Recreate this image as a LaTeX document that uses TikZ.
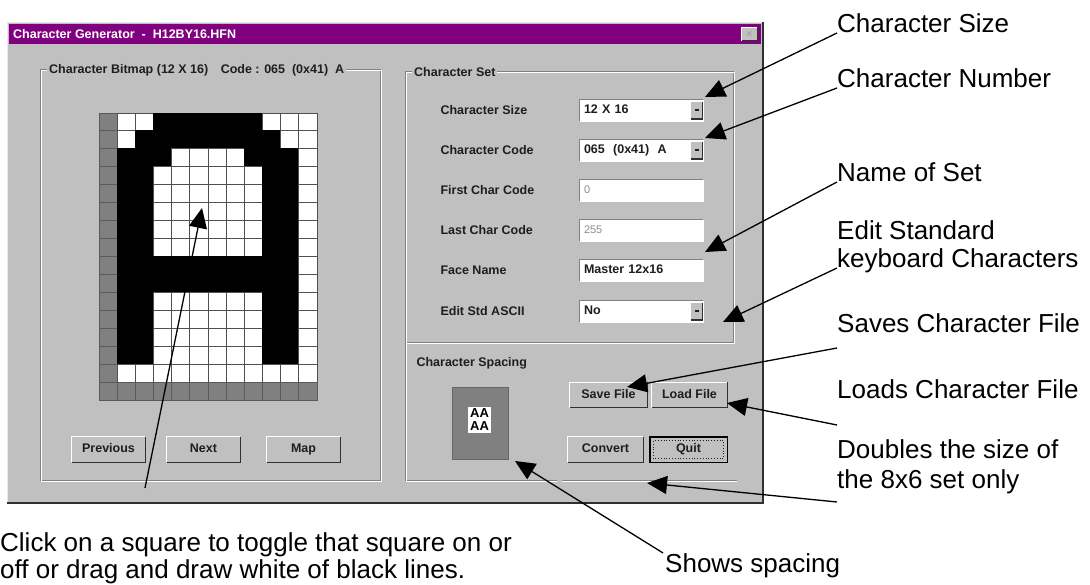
\documentclass[tikz,border=0pt]{standalone}
\usepackage{fontspec}
\setmainfont{Liberation Sans}
\usetikzlibrary{arrows.meta}
\definecolor{wingray}{HTML}{C0C0C0}
\definecolor{winlight}{HTML}{E8E8E8}
\definecolor{winshadow}{HTML}{808080}
\definecolor{windark}{HTML}{303030}
\definecolor{titlepurple}{HTML}{800080}
\definecolor{uitext}{HTML}{1E1E1E}
\definecolor{disabledtext}{HTML}{8C8C8C}
\definecolor{cellG}{HTML}{808080}
\definecolor{cellW}{HTML}{FFFFFF}
\definecolor{cellB}{HTML}{000000}
\definecolor{edgeG}{HTML}{5A5A5A}
\definecolor{edgeW}{HTML}{505050}
\definecolor{edgeB}{HTML}{000000}
\newcommand\raisedEdge[1]{%
  \draw[white, line width=1.2pt] (#1.south west) -- (#1.north west) -- (#1.north east);
  \draw[windark, line width=1.4pt] (#1.north east) -- (#1.south east) -- (#1.south west);}
\newcommand\sunkenEdge[1]{%
  \draw[winshadow, line width=1.2pt] (#1.south west) -- (#1.north west) -- (#1.north east);
  \draw[white, line width=1.2pt] (#1.north east) -- (#1.south east) -- (#1.south west);}
\begin{document}
\begin{tikzpicture}[x=1pt,y=-1pt,
  ui/.style={font=\fontsize{12.5}{14}\selectfont\bfseries, text=uitext},
  annot/.style={font=\fontsize{26}{30}\selectfont, inner sep=0pt, anchor=base west},
  lead/.style={line width=1.3pt, -{Triangle[length=20pt,width=18pt]}},
  btn/.style={ui, fill=wingray, inner sep=0pt, minimum width=#1, minimum height=25pt, text height=9pt, text depth=2.5pt},
  field/.style={ui, fill=white, inner xsep=4pt, inner ysep=0pt, text width=115pt, align=left, minimum height=21pt, text height=9pt, text depth=2.5pt},
  ddbtn/.style={fill=wingray, inner sep=0pt, minimum width=11pt, minimum height=17pt},
  frametitle/.style={ui, fill=wingray, inner xsep=2pt, inner ysep=1pt, anchor=west},
  etchdark/.style={draw=winshadow, line width=1pt},
  etchlight/.style={draw=white, line width=1pt},
]
\useasboundingbox (0,0) rectangle (1090,585);
\fill[white] (0,0) rectangle (1090,585);

% ---------- window ----------
\fill[wingray] (7,22) rectangle (764,503);
\draw[winlight, line width=1.5pt] (7.5,503) -- (7.5,22.5) -- (764,22.5);
\draw[windark, line width=2pt] (763,22) -- (763,502.5) -- (7,502.5);
\fill[titlepurple] (9,24) rectangle (761,44);
\node[font=\fontsize{12.5}{13}\selectfont\bfseries, text=white, anchor=west, inner sep=0pt] (title) at (13,34) {Character Generator \ - \ H12BY16.HFN};
\node[fill=wingray, minimum width=15pt, minimum height=13pt, inner sep=0pt, font=\fontsize{10}{10}\selectfont, text=winshadow] (close) at (749.5,34) {$\times$};
\raisedEdge{close}

% ---------- left group ----------
\draw[etchdark] (40,70) rectangle (380,480);
\draw[etchlight] (41,71) rectangle (381,481);
\node[frametitle] (bmtitle) at (47,70) {Character Bitmap (12 X 16)\quad Code : 065 \ (0x41) \ A};

% bitmap grid
\def\cw{18.17}\def\ch{17.94}
\foreach \r/\row in {
  0/{G,W,W,B,B,B,B,B,B,W,W,W},
  1/{G,W,B,B,B,B,B,B,B,B,W,W},
  2/{G,B,B,B,W,W,W,W,B,B,B,W},
  3/{G,B,B,W,W,W,W,W,W,B,B,W},
  4/{G,B,B,W,W,W,W,W,W,B,B,W},
  5/{G,B,B,W,W,W,W,W,W,B,B,W},
  6/{G,B,B,W,W,W,W,W,W,B,B,W},
  7/{G,B,B,W,W,W,W,W,W,B,B,W},
  8/{G,B,B,B,B,B,B,B,B,B,B,W},
  9/{G,B,B,B,B,B,B,B,B,B,B,W},
  10/{G,B,B,W,W,W,W,W,W,B,B,W},
  11/{G,B,B,W,W,W,W,W,W,B,B,W},
  12/{G,B,B,W,W,W,W,W,W,B,B,W},
  13/{G,B,B,W,W,W,W,W,W,B,B,W},
  14/{G,W,W,W,W,W,W,W,W,W,W,W},
  15/{G,G,G,G,G,G,G,G,G,G,G,G}} {
  \foreach \c [count=\ci from 0] in \row {
    \filldraw[fill=cell\c, draw=edge\c, line width=0.9pt]
      ({99+\ci*\cw},{113+\r*\ch}) rectangle ++(\cw,\ch);
  }
}

% left buttons
\node[btn=73pt] (prev) at (108.5,449.5) {Previous};
\node[btn=73pt] (next) at (203.5,449.5) {Next};
\node[btn=73pt] (map)  at (303.5,449.5) {Map};
\raisedEdge{prev}\raisedEdge{next}\raisedEdge{map}

% ---------- right group: Character Set ----------
\draw[etchdark] (405,72) rectangle (733,343);
\draw[etchlight] (406,73) rectangle (734,344);
\node[frametitle] (settitle) at (412,72) {Character Set};

\node[ui, anchor=west] (lSize)  at (437,110.5) {Character Size};
\node[ui, anchor=west] (lCode)  at (437,150.5) {Character Code};
\node[ui, anchor=west] (lFirst) at (437,190.5) {First Char Code};
\node[ui, anchor=west] (lLast)  at (437,230.5) {Last Char Code};
\node[ui, anchor=west] (lFace)  at (437,270.5) {Face Name};
\node[ui, anchor=west] (lAscii) at (437,311.5) {Edit Std ASCII};

\node[field] (cbSize)  at (641.5,110.5) {12 X 16};
\node[field] (cbCode)  at (641.5,150.5) {065 \ (0x41) \ A};
\node[field, text=disabledtext, font=\fontsize{11}{13}\selectfont] (tbFirst) at (641.5,190.5) {0};
\node[field, text=disabledtext, font=\fontsize{11}{13}\selectfont] (tbLast)  at (641.5,230.5) {255};
\node[field] (tbFace)  at (641.5,270.5) {Master 12x16};
\node[field] (cbAscii) at (641.5,311.5) {No};
\foreach \b in {cbSize,cbCode,tbFirst,tbLast,tbFace,cbAscii} {\sunkenEdge{\b}}
\foreach \b/\y in {cbSizeBtn/110.5,cbCodeBtn/150.5,cbAsciiBtn/311.5} {
  \node[ddbtn] (\b) at (696.5,\y) {};
  \raisedEdge{\b}
  \fill[uitext] ([xshift=-2pt,yshift=-1pt]\b.center) rectangle ([xshift=2pt,yshift=1pt]\b.center);
}

% ---------- lower right area ----------
\draw[etchdark] (405,343) -- (405,480) -- (557,480);
\draw[etchlight] (406,343) -- (406,481) -- (557,481);
\draw[etchdark] (562,480) -- (737,480);
\draw[etchlight] (562,481) -- (737,481);
\node[ui, anchor=west] (spTitle) at (413,363) {Character Spacing};

\node[fill=cellG, draw=winshadow!80!black, minimum width=56pt, minimum height=72pt, inner sep=0pt] (spbox) at (480,423) {};
\node[fill=white, inner xsep=2pt, inner ysep=2pt, align=center, font=\fontsize{13}{13}\selectfont\bfseries] (spglyph) at (479.5,420) {AA\\AA};

\node[btn=77pt] (save) at (608.5,395) {Save File};
\node[btn=75pt] (load) at (689.5,395) {Load File};
\node[btn=75pt] (convert) at (605.5,449.5) {Convert};
\node[btn=77pt, draw=black, line width=1pt] (quit) at (688.5,449.5) {Quit};
\raisedEdge{save}\raisedEdge{load}\raisedEdge{convert}
\draw[black, line width=1.2pt] (quit.north west) rectangle (quit.south east);
\draw[uitext, dotted, line width=0.8pt] ([shift={(4pt,4pt)}]quit.south west) rectangle ([shift={(-4pt,-4pt)}]quit.north east);

% ---------- annotations ----------
\node[annot] (aSize)  at (837,33)  {Character Size};
\node[annot] (aNum)   at (837,88)  {Character Number};
\node[annot] (aName)  at (837,182) {Name of Set};
\node[annot] (aEdit1) at (837,240) {Edit Standard};
\node[annot] (aEdit2) at (837,268) {keyboard Characters};
\node[annot] (aSave)  at (837,333) {Saves Character File};
\node[annot] (aLoad)  at (837,398) {Loads Character File};
\node[annot] (aDbl1)  at (837,458) {Doubles the size of};
\node[annot] (aDbl2)  at (837,488) {the 8x6 set only};
\node[annot] (aShow)  at (665,572) {Shows spacing};
\node[annot] (aClick1) at (0,551) {Click on a square to toggle that square on or};
\node[annot] (aClick2) at (0,578) {off or drag and draw white of black lines.};

\coordinate (tSize) at (705,97);
\coordinate (tNum)  at (705,138);
\coordinate (tName) at (705,252);
\coordinate (tEdit) at (723,322);
\coordinate (tSave) at (627,387);
\coordinate (tLoad) at (727,403);
\coordinate (tDbl)  at (647,483);
\coordinate (tShow) at (515,461);
\coordinate (tClick) at (202,208);
\coordinate (sClick) at (145,488);

\draw[lead] (aSize.base west) -- (tSize);
\draw[lead] (aNum.base west) -- (tNum);
\draw[lead] (aName.base west) -- (tName);
\draw[lead] (aEdit2.base west) -- (tEdit);
\draw[lead] ([yshift=-15pt]aSave.base west) -- (tSave);
\draw[lead] ([yshift=-27pt]aLoad.base west) -- (tLoad);
\draw[lead] ([yshift=-14pt]aDbl2.base west) -- (tDbl);
\draw[lead] ([xshift=-2pt]aShow.north west) -- (tShow);
\draw[lead] (sClick) -- (tClick);
\end{tikzpicture}
\end{document}
